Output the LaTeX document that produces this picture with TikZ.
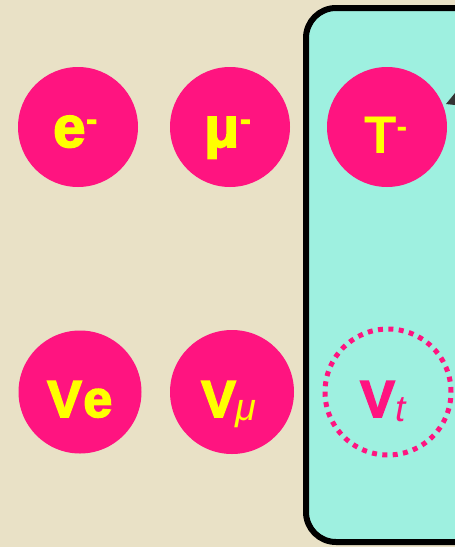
\documentclass[tikz,border=0pt]{standalone}
\usepackage{fontspec}
\setmainfont{Liberation Sans}
\newfontfamily\hv[FakeBold=3]{Liberation Sans Bold}
\definecolor{bg}{RGB}{233,225,198}
\definecolor{pinkc}{RGB}{255,20,128}
\definecolor{boxc}{RGB}{158,240,224}
\definecolor{yel}{RGB}{255,255,0}
\begin{document}
\begin{tikzpicture}[x=1pt,y=-1pt,
  ball/.style={circle,fill=pinkc,draw=none,inner sep=0pt,minimum size=#1},
  lbl/.style={anchor=base west,inner sep=0pt,text=yel}]
\useasboundingbox (0,0) rectangle (455,547);
\fill[bg] (0,0) rectangle (455,547);
% box
\begin{scope}
\clip (0,0) rectangle (455,547);
\draw[line width=6pt,fill=boxc,rounded corners=30pt] (306,8) rectangle (490,542);
\end{scope}
% top row
\node[ball=120pt] (e) at (78,127) {};
\node[ball=120pt] (mu) at (230,127) {};
\node[ball=120pt] (tau) at (387,127) {};
% bottom row
\node[ball=123pt] (nue) at (80,392) {};
\node[ball=124pt] (numu) at (232,392) {};
\node[circle,draw=pinkc,line width=5pt,dash pattern=on 5pt off 5.4pt,inner sep=0pt,minimum size=126pt] (nutau) at (388,392) {};
% labels
\node[lbl] (te) at (53,147) {\hv\fontsize{58}{58}\selectfont e\kern1pt\raisebox{17pt}{\bfseries\fontsize{32}{32}\selectfont -}};
\node[lbl] (tmu) at (204,147) {\hv\fontsize{57}{57}\selectfont μ\kern1pt\raisebox{17pt}{\bfseries\fontsize{32}{32}\selectfont -}};
\node[lbl] (ttau) at (364,153) {\bfseries\fontsize{53}{53}\selectfont T\raisebox{15.5pt}{\fontsize{32}{32}\selectfont -}};
\node[lbl] (tnue) at (47,417) {\hv\fontsize{52}{52}\selectfont V\kern1.5pt e};
\node[lbl] (tnumu) at (201,417) {\hv\fontsize{52}{52}\selectfont V\raisebox{-3pt}{\normalfont\fontsize{38}{38}\selectfont\itshape μ}};
\node[lbl,text=pinkc] (tnutau) at (360,417) {\hv\fontsize{52}{52}\selectfont V\kern1pt\raisebox{-4pt}{\normalfont\fontsize{37}{37}\selectfont\itshape t}};
% arrow tip at right edge
\fill[black!80] (446,104) -- (455,93) -- (455,105) -- cycle;
\end{tikzpicture}
\end{document}
